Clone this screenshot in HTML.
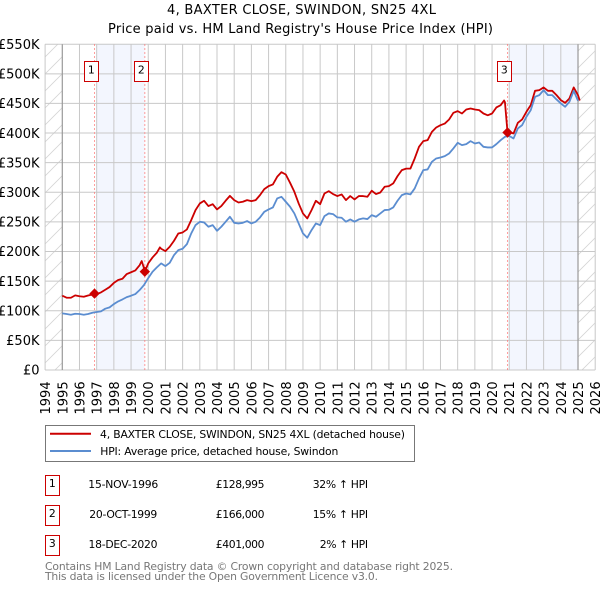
<!DOCTYPE html>
<html lang="en">
<head>
<meta charset="utf-8">
<title>4, BAXTER CLOSE, SWINDON, SN25 4XL</title>
<style>
html,body{margin:0;padding:0;background:#fff;width:600px;height:590px;overflow:hidden}
svg{display:block;font-family:"DejaVu Sans","Liberation Sans",sans-serif}
</style>
</head>
<body>
<svg id="chart" xmlns="http://www.w3.org/2000/svg" width="600" height="590" viewBox="0 0 600 590">
  <defs>
    <pattern id="hatch" patternUnits="userSpaceOnUse" width="17" height="17">
      <path d="M-1 18L18 -1M-1 1L1 -1M16 18L18 16" stroke="#d4d4d4" stroke-width="0.8" fill="none"/>
    </pattern>
  </defs>
  <text x="301.5" y="14" font-size="13" text-anchor="middle" textLength="269" fill="#000">4, BAXTER CLOSE, SWINDON, SN25 4XL</text>
  <text x="300.5" y="33" font-size="13" text-anchor="middle" textLength="385" fill="#000">Price paid vs. HM Land Registry's House Price Index (HPI)</text>
  <g id="plot"></g>

  <g>
    <rect x="45.5" y="425.5" width="369" height="36" fill="#fff" stroke="#777" stroke-width="1"/>
    <line x1="50" x2="91" y1="433.8" y2="433.8" stroke="#cc0000" stroke-width="2"/>
    <text x="100" y="438" font-size="10.8" textLength="305">4, BAXTER CLOSE, SWINDON, SN25 4XL (detached house)</text>
    <line x1="50" x2="91" y1="451" y2="451" stroke="#5b8dd0" stroke-width="2"/>
    <text x="100.3" y="455" font-size="10.8" textLength="238">HPI: Average price, detached house, Swindon</text>
  </g>

  <g font-size="10.8" fill="#000">
    <g>
      <rect x="45.5" y="475.5" width="14" height="20" fill="#fff" stroke="#cc0000"/>
      <text x="52.3" y="487" text-anchor="middle">1</text>
      <text x="123.3" y="488" text-anchor="middle" textLength="70">15-NOV-1996</text>
      <text x="264.5" y="488" text-anchor="end" textLength="48.7">£128,995</text>
      <text x="368" y="488" text-anchor="end" textLength="55.3">32% ↑ HPI</text>
    </g>
    <g>
      <rect x="45.5" y="505.5" width="14" height="20" fill="#fff" stroke="#cc0000"/>
      <text x="52.3" y="517" text-anchor="middle">2</text>
      <text x="123.3" y="518" text-anchor="middle" textLength="68">20-OCT-1999</text>
      <text x="264.5" y="518" text-anchor="end" textLength="48.7">£166,000</text>
      <text x="368" y="518" text-anchor="end" textLength="55.3">15% ↑ HPI</text>
    </g>
    <g>
      <rect x="45.5" y="535.5" width="14" height="20" fill="#fff" stroke="#cc0000"/>
      <text x="52.3" y="547" text-anchor="middle">3</text>
      <text x="123" y="548" text-anchor="middle" textLength="69">18-DEC-2020</text>
      <text x="264.5" y="548" text-anchor="end" textLength="48.7">£401,000</text>
      <text x="368" y="548" text-anchor="end" textLength="48.3">2% ↑ HPI</text>
    </g>
  </g>

  <text x="45" y="570" font-size="10.8" fill="#777" textLength="408">Contains HM Land Registry data © Crown copyright and database right 2025.</text>
  <text x="45" y="580" font-size="10.8" fill="#777" textLength="333">This data is licensed under the Open Government Licence v3.0.</text>
</svg>
<script>
const xTickYears = [1994,1995,1996,1997,1998,1999,2000,2001,2002,2003,2004,2005,2006,2007,2008,2009,2010,2011,2012,2013,2014,2015,2016,2017,2018,2019,2020,2021,2022,2023,2024,2025,2026];
const yTickValues = [0,50,100,150,200,250,300,350,400,450,500,550];
const yTickLabels = ['£0','£50K','£100K','£150K','£200K','£250K','£300K','£350K','£400K','£450K','£500K','£550K'];
const saleDates = [1996.875,1999.8,2020.9];
const salePrices = [128.995,166,401];
const saleLabels = ['1','2','3'];
const bandStarts = [1996.96,2020.96];
const bandEnds = [1999.8,2025];
const dataStart = 1995;
const dataEnd = 2025;
const hpiFirstYear = 1995;
const hpiValues = [
95.6,94.5,93.3,95, 94.5,93.3,94.5,96.7, 97.9,99,103.5,105.7, 111.3,115.8,119.2,123, 125.4,128.2,135,143.4,
155.2,165.9,173.2,180, 175.4,181,194,202.4, 204.7,212.5,230.6,244.6, 250.2,249.1,241.8,244.6, 235,241.8,250.2,258.7,
248.5,247.4,248.5,251.4, 247.4,250.2,257.5,267.1, 271,274.4,289.6,292.4, 284,275.6,264.3,247.4, 230.6,223.3,236.2,247.4,
244.6,259.8,264.3,263.2, 257.6,257,250.3,254.2, 250.3,254.2,255.9,254.8, 261.5,258.7,264.3,270, 270.5,274.4,285.7,295.2,
298,296.4,306.5,323.4, 337.4,338.6,351.5,357.1, 358.8,361,365.5,374, 383.5,379.6,381.3,386.4, 382.4,384,376.8,375.7,
375.7,381.3,388,393.7, 395,390.9,407.8,413.4, 427.5,438.7,461.2,464, 472.5,464,464,456.7, 450,444.3,452.8,471.3, 454.5];
const priceFirstYear = 1995;
const priceValues = [
125.4,122,122,126, 124.5,123.6,125.8,127.5, 128,131,135.5,140, 147,152,154,162, 165,168,177,172,
180,190,198,204.7, 200.7,208,218.2,230.5, 232.2,237.3,253,269.9, 281.2,285.7,276.7,280, 271,276.7,285.7,294,
286.8,282.8,284,286.8, 285,286.8,295.2,305.3, 310.4,313.2,326.2,334, 330,316,300.9,281.2, 264.3,255.9,269.9,285.7,
280,298,302,297, 293.6,296.4,286.8,293.6, 288,293.6,293.6,292.4, 302.6,297,299.7,309.3, 310.4,315,327.3,337.4,
340,340,357.1,376.8, 386.4,388,402,409.4, 413.3,416,422.9,434.2, 437,433,439.8,441.5, 439.8,438.7,433,430,
433,443.2,447,452, 401.6,399.3,417.3,423, 435.9,447.1,471.3,472.5, 477,471.3,471.3,464, 455.6,451,458.4,477, 464];
const priceExtraDates = [1999.62,1999.8,2000.68,2020.7,2020.9,2025.1];
const priceExtraValues = [184,166,207,455,401,455];

const NS = 'http://www.w3.org/2000/svg';
const plot = document.getElementById('plot');
const LEFT = 45.1, RIGHT = 595.2, TOP = 44.2, BOTTOM = 370;
function x(year){ return LEFT + (year - 1994) * (RIGHT - LEFT) / 32; }
function y(value){ return BOTTOM - value * (BOTTOM - TOP) / 550; }
function add(tag, attrs, parent){
  const el = document.createElementNS(NS, tag);
  for (const k in attrs) el.setAttribute(k, attrs[k]);
  (parent || plot).appendChild(el);
  return el;
}
function pathOf(dates, values){
  return dates.map((d, i) => (i ? 'L' : 'M') + x(d).toFixed(2) + ' ' + y(values[i]).toFixed(2)).join('');
}

bandStarts.forEach((s, i) => {
  const r = add('rect', {x: x(s), y: TOP, width: x(bandEnds[i]) - x(s), height: BOTTOM - TOP, fill: '#f3f6fe'});
  
  
});

const h1 = add('rect', {x: x(1994), y: TOP, width: x(dataStart) - x(1994), height: BOTTOM - TOP, fill: 'url(#hatch)'});


const h2 = add('rect', {x: x(dataEnd), y: TOP, width: x(2026) - x(dataEnd), height: BOTTOM - TOP, fill: 'url(#hatch)'});



yTickValues.forEach((v, i) => {
  const g = add('line', {x1: LEFT, x2: RIGHT, y1: y(v), y2: y(v), stroke: '#c8c8c8', 'stroke-width': 1});
  
  
  const t = add('text', {x: 39.5, y: y(v) + 4.7, 'font-size': 13, 'text-anchor': 'end', fill: '#000'});
  
  
  t.textContent = yTickLabels[i];
});

xTickYears.forEach((yr) => {
  const edge = yr === dataStart || yr === dataEnd;
  const g = add('line', {x1: x(yr), x2: x(yr), y1: TOP, y2: BOTTOM, stroke: edge ? '#999' : '#c8c8c8', 'stroke-width': edge ? 1.2 : 1});
  
  
  const t = add('text', {'font-size': 13, 'text-anchor': 'start', fill: '#000', transform: 'translate(' + (x(yr) + 5) + ' 414.5) rotate(-90)'});
  
  
  t.textContent = yr;
});

saleDates.forEach((d) => {
  const l = add('line', {x1: x(d), x2: x(d), y1: TOP, y2: BOTTOM, stroke: '#ff7b7b', 'stroke-width': 1, 'stroke-dasharray': '1.5 2.5'});
  
  
});

const priceMerged = priceValues.map((v, i) => [priceFirstYear + i * 0.25, v])
  .concat(priceExtraDates.map((d, i) => [d, priceExtraValues[i]]))
  .sort((a, b) => a[0] - b[0]);
const pricePath = add('path', {d: pathOf(priceMerged.map(p => p[0]), priceMerged.map(p => p[1])), fill: 'none', stroke: '#cc0000', 'stroke-width': 1.8, 'stroke-linejoin': 'round'});



const hpiDates = hpiValues.map((_, i) => hpiFirstYear + i * 0.25);
const hpiPath = add('path', {d: pathOf(hpiDates, hpiValues), fill: 'none', stroke: '#5b8dd0', 'stroke-width': 1.8, 'stroke-linejoin': 'round'});



saleDates.forEach((d, i) => {
  const cx = x(d), cy = y(salePrices[i]), r = 5.2;
  const m = add('polygon', {points: (cx - r) + ',' + cy + ' ' + cx + ',' + (cy - r) + ' ' + (cx + r) + ',' + cy + ' ' + cx + ',' + (cy + r), fill: '#cc0000'});
  
  
  const bx = Math.round(cx - 10.5) + 0.5;
  const b = add('rect', {x: bx, y: 61.5, width: 14, height: 20, fill: '#fff', stroke: '#cc0000', 'stroke-width': 1});
  
  
  const t = add('text', {x: bx + 6.8, y: 73.5, 'font-size': 10.8, 'text-anchor': 'middle', fill: '#000'});
  
  
  t.textContent = saleLabels[i];
});
</script>
</body>
</html>
